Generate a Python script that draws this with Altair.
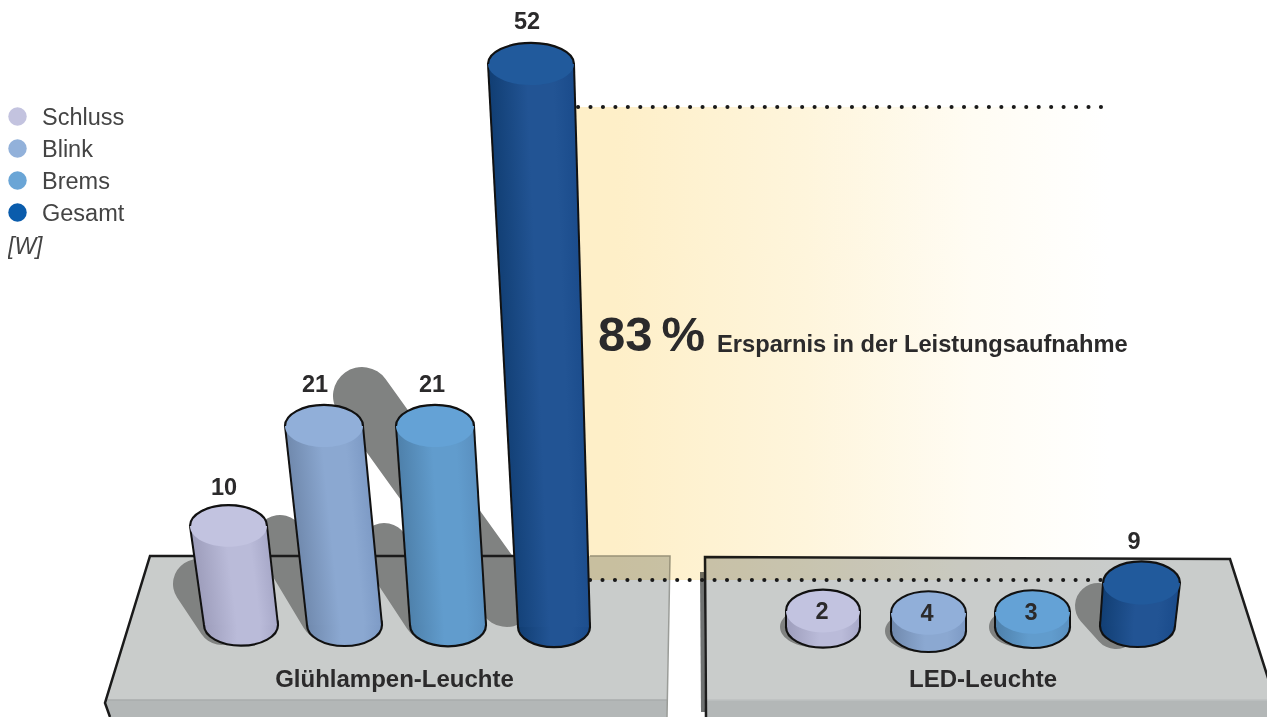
import altair as alt
import pandas as pd

# ---- chart values
LAMPS = ["Schluss", "Blink", "Brems", "Gesamt", "Schluss", "Blink", "Brems", "Gesamt"]
VALUES = [10, 21, 21, 52, 2, 4, 3, 9]
LEGEND_NAMES = ["Schluss", "Blink", "Brems", "Gesamt"]
LEGEND_COLORS = ["#c3c3df", "#92b1da", "#6aa5d6", "#0a5cac"]
GROUP_LABELS = ["Glühlampen-Leuchte", "LED-Leuchte"]

# ---- layout of the illustration
SEAT = [0, 0, 0, 0.2, 0.2, 0.6, 0.2, 0.1]
TOP_X = [228.5, 324, 435, 531, 823, 928.5, 1032.5, 1141.5]
BASE_X = [241, 344.5, 448, 554, 823, 928.5, 1032.5, 1137.5]
TOP_W = [77, 78, 78, 86, 74, 75, 75, 77]
BASE_W = [74, 75, 76, 72, 74, 75, 75, 75]
TOP_RATIO = [0.54, 0.54, 0.54, 0.49, 0.58, 0.58, 0.58, 0.56]
LABEL_X = [224, 315, 432, 527, 822, 927, 1031, 1134]
LABEL_DY = [-38, -41, -41, -42, 1, 1, 1, -41]
W_DOMAIN = [-1, 0, 2, 3, 4, 9, 10, 21, 52]
W_PIXELS = [635, 625, 611, 612, 613, 583, 526, 426, 64]
THEME = {
    "Schluss": ("#c2c3e0", "#9d9dbb", "#babbd9", "#a7a8c8"),
    "Blink": ("#91afd9", "#7089ad", "#8ba8d1", "#7d9ac5"),
    "Brems": ("#64a2d6", "#4e80aa", "#619ccd", "#5a90c0"),
    "Gesamt": ("#215a9c", "#113e73", "#225494", "#1a4b8b"),
}
FONT = "Liberation Sans"
W, H = 1259, 709
RIGHT, BOTTOM = 8 + W, 8 + H
INK = "#111111"
SHADE = "#808281"
PLATE = "#c9cccb"
FRONT = "#b3b7b7"

X = dict(scale=alt.Scale(domain=[8, RIGHT], range=[0, W], nice=False, zero=False), axis=None)
PY = dict(scale=alt.Scale(domain=[8, BOTTOM], range=[0, H], nice=False, zero=False), axis=None)
WY = dict(scale=alt.Scale(domain=W_DOMAIN, range=[p - 8 for p in W_PIXELS], nice=False, zero=False), axis=None)


def ellipse(ratio):
    k = 0.5523
    r = ratio
    return (f"M-1,0C-1,{-k*r:.4f},{-k:.4f},{-r:.4f},0,{-r:.4f}"
            f"C{k:.4f},{-r:.4f},1,{-k*r:.4f},1,0"
            f"C1,{k*r:.4f},{k:.4f},{r:.4f},0,{r:.4f}"
            f"C{-k:.4f},{r:.4f},-1,{k*r:.4f},-1,0Z")


def upper_arc(ratio):
    k = 0.5523
    r = ratio
    return (f"M-1,0C-1,{-k*r:.4f},{-k:.4f},{-r:.4f},0,{-r:.4f}"
            f"C{k:.4f},{-r:.4f},1,{-k*r:.4f},1,0")


def grad(stops, x1=0.0, y1=0.0, x2=1.0, y2=0.0):
    return dict(
        gradient="linear",
        stops=[dict(offset=s[0], color=s[1]) for s in stops],
        x1=x1, y1=y1, x2=x2, y2=y2,
    )


def line(points, color, width, **kw):
    df = pd.DataFrame({"x": [p[0] for p in points], "y": [p[1] for p in points], "i": range(len(points))})
    return alt.Chart(df).mark_line(color=color, strokeWidth=width, **kw).encode(
        x=alt.X("x:Q", **X), y=alt.Y("y:Q", **PY), order="i:Q")


def slab(y0, y1, x0a, x0b, x1a, x1b, fill):
    df = pd.DataFrame({"y": [y0, y1], "xa": [x0a, x1a], "xb": [x0b, x1b]})
    return alt.Chart(df).mark_area(orient="horizontal", fill=fill, opacity=1).encode(
        y=alt.Y("y:Q", **PY), x=alt.X("xa:Q", **X), x2="xb:Q")


def text(x, y, s, size, weight="normal", style="normal", align="left", color="#2b2a2b"):
    df = pd.DataFrame({"x": [x], "y": [y], "t": [s]})
    return alt.Chart(df).mark_text(
        font=FONT, fontSize=size, fontWeight=weight, fontStyle=style, align=align,
        baseline="middle", color=color,
    ).encode(x=alt.X("x:Q", **X), y=alt.Y("y:Q", **PY), text="t:N")


layers = []
# platforms
layers += [
    slab(700, 717, 105, 667, 110, 667, FRONT),
    slab(556, 700, 150, 670, 105, 667, PLATE),
    slab(700, 717, 706, 1275, 706, 1275, FRONT),
    slab(558, 700, 705, 1230, 706, 1275, PLATE),
    line([(105, 700), (667, 700)], "#a9adad", 1.5),
    line([(706, 700), (1275, 700)], "#bcc0c0", 1.5),
    line([(702, 572), (703, 712)], "#6f7272", 4),
]
# cast shadows
for pts, w in [
    ([(198, 584), (222, 620)], 50),
    ([(280, 540), (325, 615)], 50),
    ([(384, 548), (428, 615)], 50),
    ([(362, 396), (507, 598)], 58),
    ([(1098, 606), (1116, 626)], 46),
]:
    layers.append(line(pts, SHADE, w, strokeCap="round"))
for i in (4, 5, 6):
    df = pd.DataFrame({"x": [BASE_X[i] - 6], "y": [-SEAT[i]], "v": [VALUES[i]]})
    layers.append(alt.Chart(df).mark_point(shape=ellipse(0.56), size=BASE_W[i] ** 2, filled=True,
                                           fill=SHADE, strokeWidth=0, opacity=1).encode(
        x=alt.X("x:Q", **X), y=alt.Y("y:Q", **WY)))
# platform outlines
layers += [
    line([(110, 717), (105, 703), (150, 556), (520, 556)], "#1a1a1a", 2.5),
    line([(590, 556), (670, 556), (667, 717)], "#9a9c98", 1.5),
    line([(1275, 700), (1230, 559), (705, 557), (706, 717)], "#1c1c1c", 2.5),
]
# saving band and its dotted limits
band = pd.DataFrame({"x": [560], "x2": [1110], "y": [107], "y2": [580]})
layers.append(alt.Chart(band).mark_rect(
    fill=grad([(0, "#feefc8"), (0.1, "#feefc8"), (0.45, "#fef5dc"), (0.75, "#fffcf3"), (1, "#ffffff")]),
    blend="multiply",
).encode(x=alt.X("x:Q", **X), x2="x2:Q", y=alt.Y("y:Q", **PY), y2="y2:Q"))
dots = dict(strokeDash=[0.1, 12.35], strokeCap="round")
layers.append(line([(578, 107), (1108, 107)], "#1a1a1a", 4, **dots))
layers.append(line([(590, 580), (1104, 580)], "#1a1a1a", 4, **dots))

# columns
for i, (name, v) in enumerate(zip(LAMPS, VALUES)):
    top, left, mid, right = THEME[name]
    stops = [(0, left), (0.45, mid), (0.75, mid), (1, right)]
    base = pd.DataFrame({"x": [BASE_X[i]], "y": [-SEAT[i]]})
    layers.append(alt.Chart(base).mark_point(
        shape=ellipse(0.56), size=BASE_W[i] ** 2, filled=True, fill=grad(stops),
        stroke=INK, strokeWidth=2.2, opacity=1,
    ).encode(x=alt.X("x:Q", **X), y=alt.Y("y:Q", **WY)))
    xl_t, xr_t = TOP_X[i] - TOP_W[i] / 2, TOP_X[i] + TOP_W[i] / 2
    xl_b, xr_b = BASE_X[i] - BASE_W[i] / 2, BASE_X[i] + BASE_W[i] / 2
    # gradient bands run parallel to the column's slant
    lo, hi = min(xl_t, xl_b), max(xr_t, xr_b)
    bw = hi - lo
    s = ((xl_b + xr_b) - (xl_t + xr_t)) / 2 / bw
    x0 = (xl_t - lo) / bw
    e = (xr_t - xl_t) / bw
    t = e / (1 + s * s)
    body_fill = grad(stops, x1=x0, y1=0, x2=x0 + t, y2=-s * t)
    body = pd.DataFrame({"y": [v, -SEAT[i]], "xa": [xl_t, xl_b], "xb": [xr_t, xr_b]})
    layers.append(alt.Chart(body).mark_area(orient="horizontal", fill=body_fill, opacity=1).encode(
        y=alt.Y("y:Q", **WY), x=alt.X("xa:Q", **X), x2="xb:Q"))
    for a, b in ((xl_t, xl_b), (xr_t, xr_b)):
        edge = pd.DataFrame({"x": [a, b], "y": [v, -SEAT[i]], "i": [0, 1]})
        layers.append(alt.Chart(edge).mark_line(color=INK, strokeWidth=2).encode(
            x=alt.X("x:Q", **X), y=alt.Y("y:Q", **WY), order="i:Q"))
    cap = pd.DataFrame({"x": [TOP_X[i]], "y": [v]})
    layers.append(alt.Chart(cap).mark_point(
        shape=ellipse(TOP_RATIO[i]), size=TOP_W[i] ** 2, filled=True, fill=top, strokeWidth=0, opacity=1,
    ).encode(x=alt.X("x:Q", **X), y=alt.Y("y:Q", **WY)))
    layers.append(alt.Chart(cap).mark_point(
        shape=upper_arc(TOP_RATIO[i]), size=TOP_W[i] ** 2, filled=False, stroke=INK, strokeWidth=2.2, opacity=1,
    ).encode(x=alt.X("x:Q", **X), y=alt.Y("y:Q", **WY)))
    lab = pd.DataFrame({"x": [LABEL_X[i]], "y": [v], "t": [str(v)]})
    layers.append(alt.Chart(lab).mark_text(
        font=FONT, fontSize=23.5, fontWeight="bold", baseline="middle", align="center", color="#2b2a2b",
        dy=LABEL_DY[i],
    ).encode(x=alt.X("x:Q", **X), y=alt.Y("y:Q", **WY), text="t:N"))

# texts
layers += [
    text(394.5, 680, GROUP_LABELS[0], 24, "bold", align="center"),
    text(983, 680, GROUP_LABELS[1], 24, "bold", align="center"),
    text(598, 336, "83", 49, "bold"),
    text(661.5, 336, "%", 49, "bold"),
    text(717, 345, "Ersparnis in der Leistungsaufnahme", 23.7, "bold"),
    text(8, 247, "[W]", 23, style="italic", color="#444444"),
]
# legend
for k, (n, c) in enumerate(zip(LEGEND_NAMES, LEGEND_COLORS)):
    y = 118 + 32 * k
    pt = pd.DataFrame({"x": [17.5], "y": [y - 1.5]})
    layers.append(alt.Chart(pt).mark_circle(size=340, fill=c, opacity=1).encode(
        x=alt.X("x:Q", **X), y=alt.Y("y:Q", **PY)))
    layers.append(text(42, y, n, 23.5, color="#444444"))

chart = alt.layer(*layers).resolve_scale(y="independent").properties(
    width=W, height=H, padding=0, background="white",
    autosize=alt.AutoSizeParams(type="none"),
).configure_view(stroke=None)

chart.save("out.html", embed_options={"renderer": "svg", "actions": False})
